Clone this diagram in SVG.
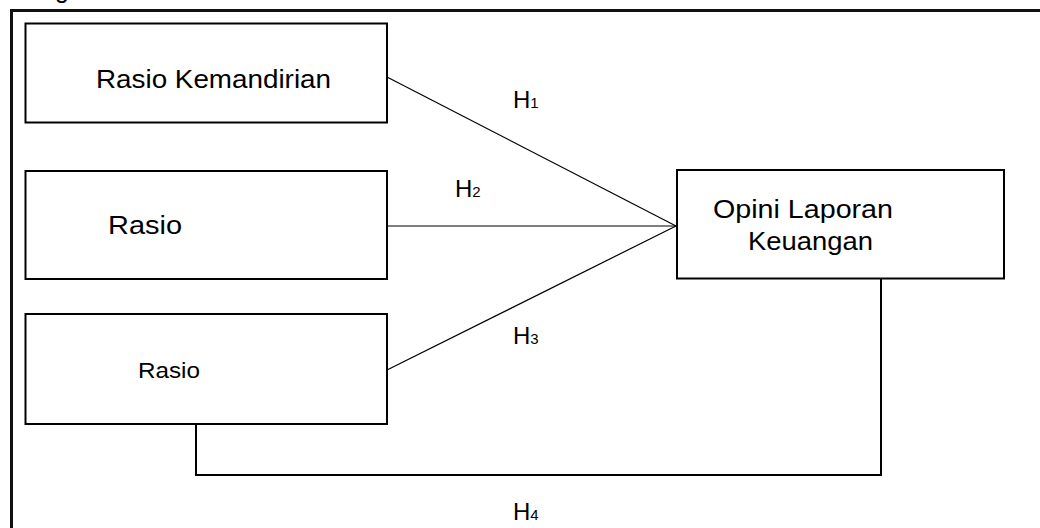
<svg xmlns="http://www.w3.org/2000/svg" width="1040" height="528" viewBox="0 0 1040 528">
<style>
.box{fill:#fff;stroke:#000;stroke-width:2}
.t{font-family:"Liberation Sans",Arial,sans-serif;font-size:25px;fill:#000}
.h{font-family:"Liberation Sans",Arial,sans-serif;font-size:24px;fill:#000}
.sub{font-size:15px}
.ln{fill:none;stroke:#000;stroke-width:1.2}
.ln2{fill:none;stroke:#000;stroke-width:2}
</style>
<rect width="1040" height="528" fill="#fff"/>
<text class="t" x="55" y="-2">g</text>
<path d="M11.5 528 V10.5 H1040" fill="none" stroke="#111" stroke-width="3"/>
<g id="connectors">
<line class="ln" x1="387" y1="77" x2="676" y2="226"/>
<line class="ln" x1="387" y1="226" x2="676" y2="226"/>
<line class="ln" x1="387" y1="370" x2="676" y2="226"/>
<path class="ln2" d="M196 424 V475 H881 V279"/>
<text class="h" x="513" y="108">H<tspan class="sub">1</tspan></text>
<text class="h" x="455" y="197">H<tspan class="sub">2</tspan></text>
<text class="h" x="513" y="344">H<tspan class="sub">3</tspan></text>
<text class="h" x="513" y="520">H<tspan class="sub">4</tspan></text>
</g>
<g id="n1">
<rect class="box" x="25.5" y="23.5" width="361.5" height="99"/>
<text class="t" x="96" y="88" textLength="235" lengthAdjust="spacingAndGlyphs">Rasio Kemandirian</text>
</g>
<g id="n2">
<rect class="box" x="25.5" y="171" width="361.5" height="108"/>
<text class="t" x="108" y="234" textLength="74" lengthAdjust="spacingAndGlyphs">Rasio</text>
</g>
<g id="n3">
<rect class="box" x="25.5" y="314" width="361.5" height="110"/>
<text class="t" x="138" y="378" font-size="22" style="font-size:22px" textLength="62" lengthAdjust="spacingAndGlyphs">Rasio</text>
</g>
<g id="n4">
<rect class="box" x="677" y="170" width="327" height="108.5"/>
<text class="t" x="713" y="218" textLength="180" lengthAdjust="spacingAndGlyphs">Opini Laporan</text>
<text class="t" x="748" y="250" textLength="125" lengthAdjust="spacingAndGlyphs">Keuangan</text>
</g>
</svg>
